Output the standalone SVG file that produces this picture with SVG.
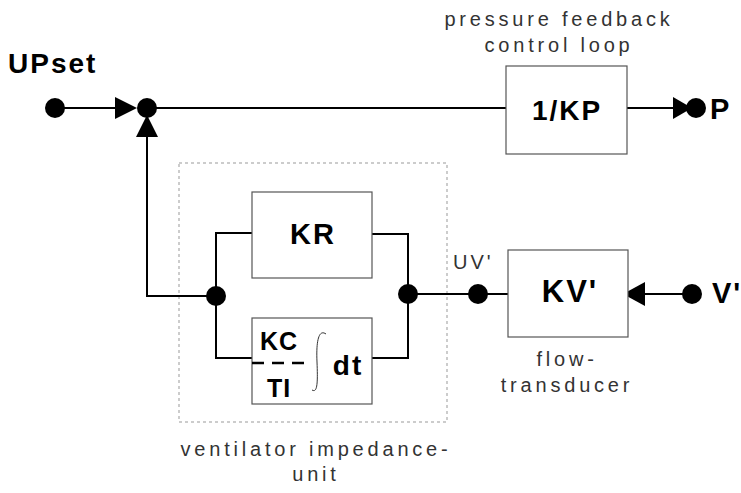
<svg xmlns="http://www.w3.org/2000/svg" width="741" height="493" viewBox="0 0 741 493">
<style>
.ln{fill:none;stroke:#000;stroke-width:2}
.box{fill:#fff;stroke:#555;stroke-width:1.2}
.dot{fill:#000}
.big{font-family:"Liberation Sans",Arial,sans-serif;font-weight:bold;fill:#000;letter-spacing:2px}
.lbl{font-family:"Liberation Sans",Arial,sans-serif;font-size:20px;letter-spacing:3.8px;fill:#333}
</style>
<rect width="741" height="493" fill="#fff"/>
<rect id="impedance-unit" x="179" y="163" width="268" height="259" fill="none" stroke="#999" stroke-width="1" stroke-dasharray="3,3"/>
<g id="connectors">
<path class="ln" d="M55,108 H120"/>
<path class="ln" d="M147,108 H506"/>
<path class="ln" d="M147,132 V296 H216"/>
<path class="ln" d="M216,296 V233 H252"/>
<path class="ln" d="M216,296 V358 H252"/>
<path class="ln" d="M372,234 H408 V294"/>
<path class="ln" d="M372,358 H408 V294"/>
<path class="ln" d="M408,294 H508"/>
<path class="ln" d="M627,108 H676"/>
<path class="ln" d="M692,294 H640"/>
<polygon points="115,97 137,108 115,119" fill="#000"/>
<polygon points="147,115 136,137 158,137" fill="#000"/>
<polygon points="673,97 692,108 673,119" fill="#000"/>
<polygon points="623,294 645,282 645,306" fill="#000"/>
</g>
<g id="upset">
<text class="big" x="8" y="73" font-size="28">UPset</text>
<circle class="dot" cx="55" cy="108" r="10"/>
</g>
<g id="sum"><circle class="dot" cx="147" cy="108" r="10"/></g>
<g id="kp">
<rect class="box" x="506" y="66" width="121" height="88"/>
<text class="big" x="567" y="120" font-size="28" text-anchor="middle">1/KP</text>
<text class="lbl" x="559" y="26" text-anchor="middle">pressure feedback</text>
<text class="lbl" x="559" y="52" text-anchor="middle">control loop</text>
</g>
<g id="p">
<circle class="dot" cx="696" cy="108" r="10"/>
<text class="big" x="710" y="119" font-size="29">P</text>
</g>
<g id="split"><circle class="dot" cx="216" cy="296" r="10"/></g>
<g id="kr">
<rect class="box" x="252" y="192" width="120" height="86"/>
<text class="big" x="313" y="244" font-size="29" text-anchor="middle">KR</text>
</g>
<g id="ki">
<rect class="box" x="252" y="318" width="120" height="86"/>
<text class="big" x="279" y="350" font-size="25" text-anchor="middle" style="letter-spacing:1px">KC</text>
<path d="M252,363 h12 M272,363 h12 M292,363 h12" stroke="#000" stroke-width="2.5"/>
<text class="big" x="279" y="397" font-size="25" text-anchor="middle" style="letter-spacing:1px">TI</text>
<path d="M326,334 C319,329 316,340 317,362 C318,385 317,393 312,390" fill="none" stroke="#333" stroke-width="1"/>
<text class="big" x="348" y="375" font-size="28" text-anchor="middle">dt</text>
</g>
<g id="join"><circle class="dot" cx="408" cy="294" r="10"/></g>
<g id="uv">
<circle class="dot" cx="478" cy="294" r="10"/>
<text class="lbl" x="453" y="269" style="font-size:20px;letter-spacing:3px">UV'</text>
</g>
<g id="kv">
<rect class="box" x="508" y="250" width="120" height="87"/>
<text class="big" x="570" y="302" font-size="31" text-anchor="middle">KV'</text>
<text class="lbl" x="567" y="366" text-anchor="middle">flow-</text>
<text class="lbl" x="567" y="392" text-anchor="middle">transducer</text>
</g>
<g id="v">
<circle class="dot" cx="692" cy="294" r="10"/>
<text class="big" x="712" y="303" font-size="29">V'</text>
</g>
<text class="lbl" x="316" y="456" text-anchor="middle">ventilator impedance-</text>
<text class="lbl" x="316" y="481" text-anchor="middle">unit</text>
</svg>
